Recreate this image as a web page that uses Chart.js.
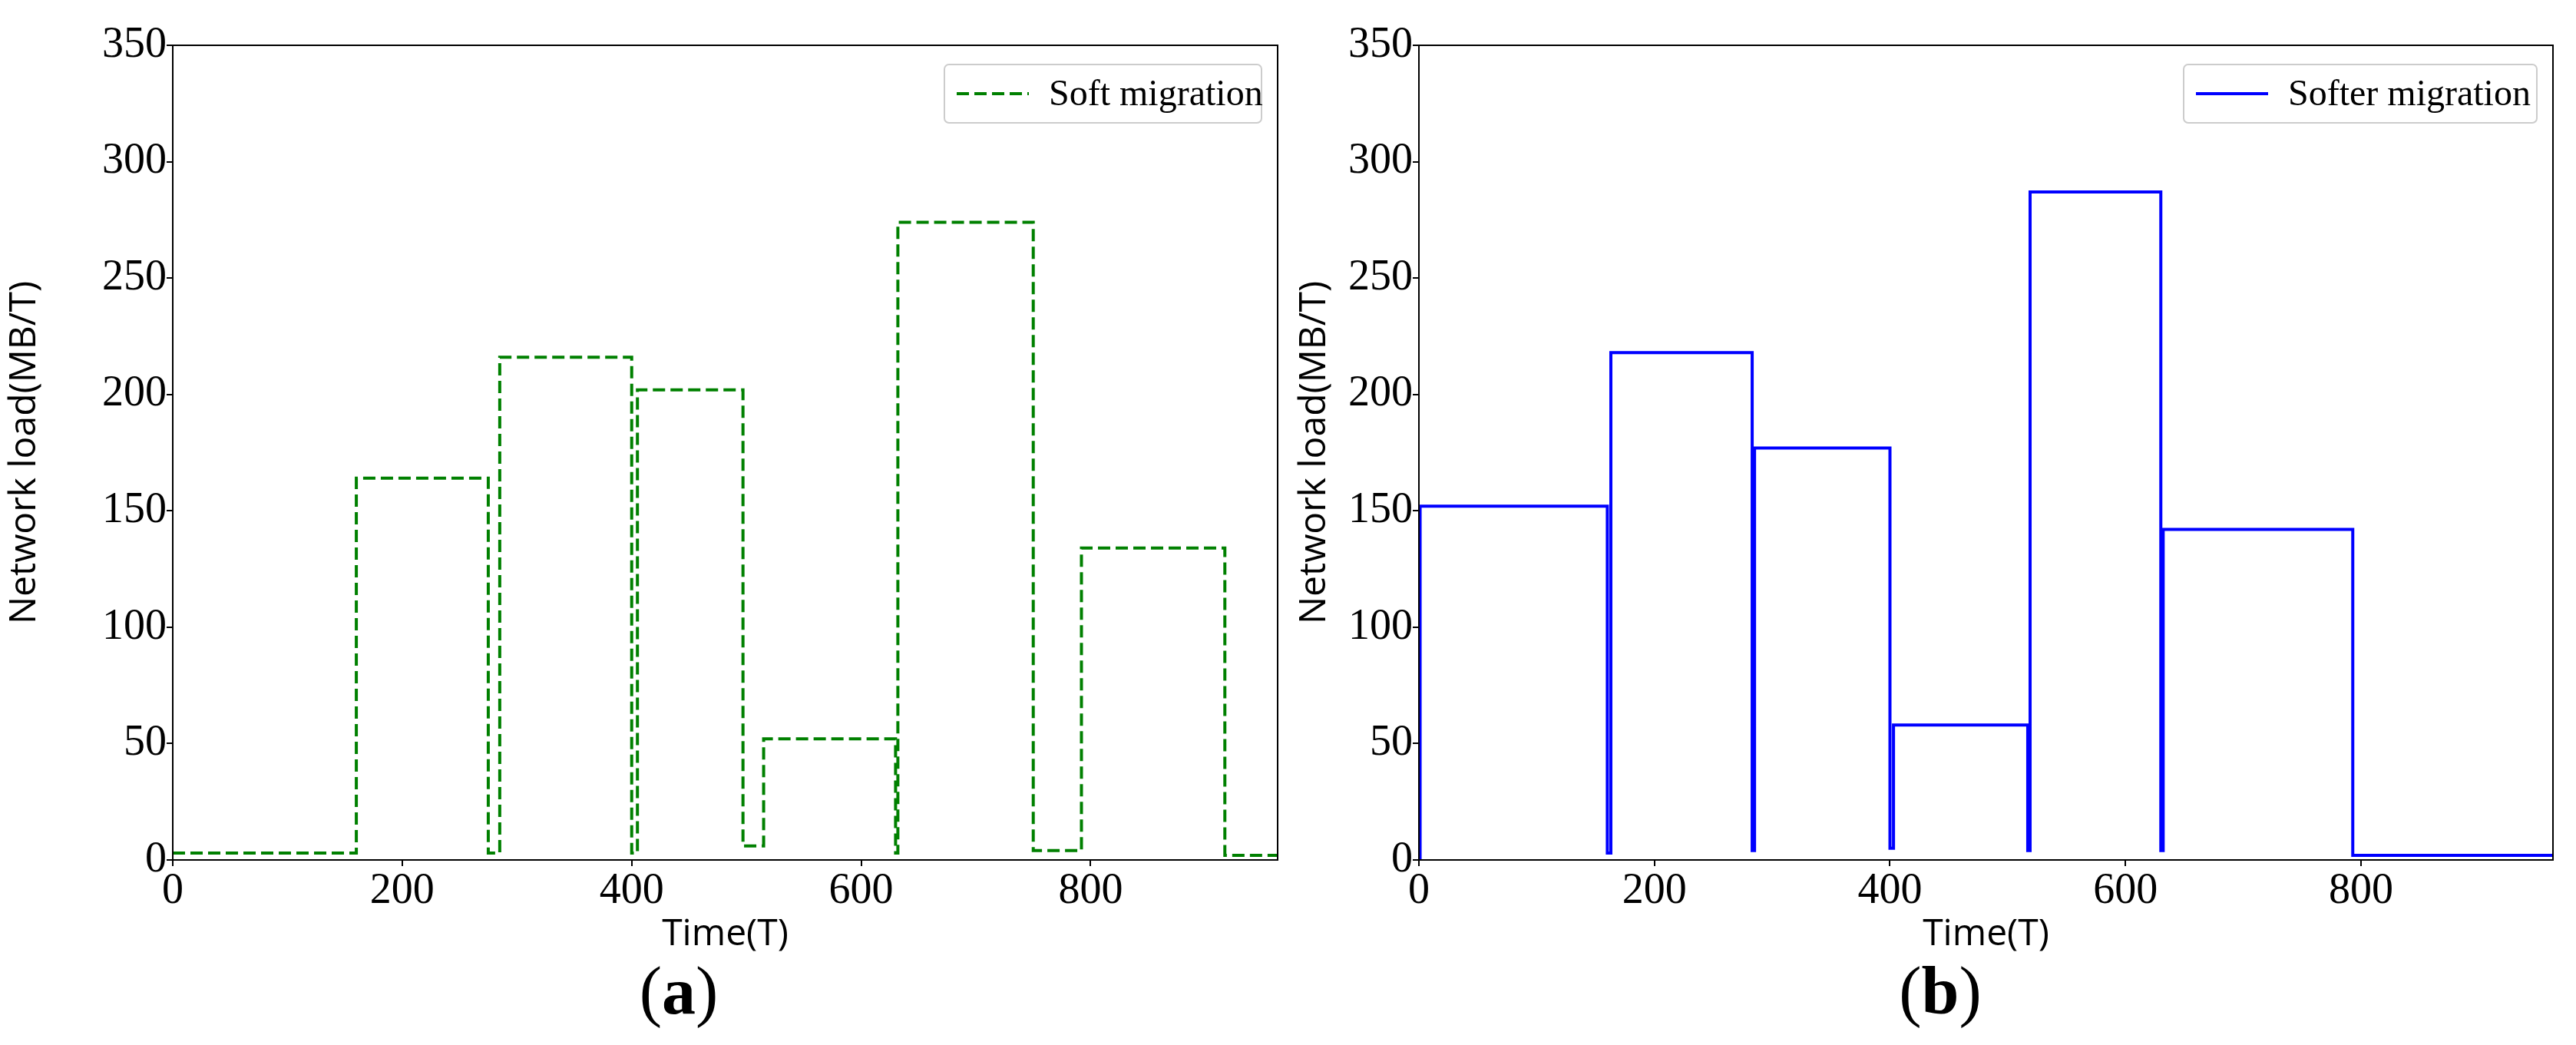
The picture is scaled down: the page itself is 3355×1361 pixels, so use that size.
<!DOCTYPE html>
<html>
<head>
<meta charset="utf-8">
<script src="https://cdn.jsdelivr.net/npm/chart.js@4.4.0/dist/chart.umd.min.js"></script>
<style>
  body { margin: 0; background: #fff; width: 3355px; height: 1361px; position: relative; overflow: hidden; }
  .panel { position: absolute; top: 0; height: 1250px; }
  .caption { position: absolute; top: 1240px; font-family: "Liberation Serif", serif; font-size: 88px; transform: translateX(-50%); }
  .caption b { font-weight: bold; }
</style>
</head>
<body>
<div class="panel" style="left:0;width:1680px"><canvas id="chartA"></canvas></div>
<div class="panel" style="left:1680px;width:1675px"><canvas id="chartB"></canvas></div>
<div class="caption" style="left:884px">(<b>a</b>)</div>
<div class="caption" style="left:2527px">(<b>b</b>)</div>
<script>
// step breakpoints (x) and level held after each breakpoint (y)
const softX = [0, 160, 275, 285, 400, 405, 497, 515, 630, 632, 750, 792, 917, 963];
const softY = [3, 164, 3, 216, 3, 202, 6, 52, 3, 274, 4, 134, 2, 2];
const softerX = [0, 1, 160, 163, 283, 285, 400, 403, 517, 519, 630, 632, 793, 963];
const softerY = [0, 152, 3, 218, 4, 177, 5, 58, 4, 287, 4, 142, 2, 2];
const xTicks = [0, 200, 400, 600, 800];
const yTicks = [0, 50, 100, 150, 200, 250, 300, 350];

// full frame around the plot area, like matplotlib
const frame = {
  id: 'frame',
  afterDraw(chart) {
    const a = chart.chartArea, c = chart.ctx;
    c.save();
    c.strokeStyle = '#000';
    c.lineWidth = 2;
    c.strokeRect(a.left, a.top, a.right - a.left, a.bottom - a.top);
    c.restore();
  }
};

const legendBox = {
  id: 'legendBox',
  afterDraw(chart, args, opts) {
    const c = chart.ctx;
    c.save();
    c.strokeStyle = '#cccccc';
    c.lineWidth = 2;
    c.fillStyle = 'rgba(255,255,255,0.8)';
    c.beginPath();
    c.roundRect(opts.x, opts.y, opts.w, 76, 6);
    c.fill();
    c.stroke();
    c.strokeStyle = opts.color;
    c.lineWidth = 4;
    c.setLineDash(opts.dash);
    c.beginPath();
    c.moveTo(opts.x + 16, opts.y + 38);
    c.lineTo(opts.x + 110, opts.y + 38);
    c.stroke();
    c.setLineDash([]);
    c.fillStyle = '#000';
    c.font = '48px "Liberation Serif"';
    c.textBaseline = 'middle';
    c.fillText(opts.label, opts.x + 136, opts.y + 40);
    c.restore();
  }
};

function makeChart(id, xs, ys, color, dash, label, yWidth, padRight, legend) {
  const pts = xs.map((x, i) => ({ x: x, y: ys[i] }));
  return new Chart(document.getElementById(id), {
    type: 'line',
    data: { datasets: [{ label: label, data: pts, stepped: 'before', borderColor: color, borderWidth: 4, borderDash: dash, pointRadius: 0, fill: false }] },
    options: {
      responsive: true,
      maintainAspectRatio: false,
      animation: false,
      layout: { padding: { top: 59, right: padRight, left: 0, bottom: 0 } },
      plugins: { legend: { display: false }, tooltip: { enabled: false }, legendBox: legend },
      scales: {
        x: {
          type: 'linear', min: 0, max: 963,
          afterBuildTicks: s => { s.ticks = xTicks.map(v => ({ value: v })); },
          afterFit: s => { s.height = 130; },
          border: { color: '#000', width: 2 },
          grid: { drawOnChartArea: false, color: '#000', tickLength: 8, lineWidth: 2 },
          ticks: { color: '#000', padding: 0, font: { family: 'Liberation Serif', size: 56 } },
          title: { display: true, text: 'Time(T)', color: '#000', padding: { top: 0 }, font: { family: 'Open Sans', size: 48 } }
        },
        y: {
          min: 0, max: 350,
          afterBuildTicks: s => { s.ticks = yTicks.map(v => ({ value: v })); },
          afterFit: s => { s.width = yWidth; },
          border: { color: '#000', width: 2 },
          grid: { drawOnChartArea: false, color: '#000', tickLength: 8, lineWidth: 2 },
          ticks: { color: '#000', padding: 0, font: { family: 'Liberation Serif', size: 56 } },
          title: { display: true, text: 'Network load(MB/T)', color: '#000', padding: { bottom: 0 }, font: { family: 'Open Sans', size: 48 } }
        }
      }
    },
    plugins: [frame, legendBox]
  });
}

makeChart('chartA', softX, softY, '#008000', [16, 7], 'Soft migration', 225, 16,
  { x: 1230, y: 84, w: 413, color: '#008000', dash: [16, 7], label: 'Soft migration' });
makeChart('chartB', softerX, softerY, '#0000ff', [], 'Softer migration', 168, 30,
  { x: 1164, y: 84, w: 460, color: '#0000ff', dash: [], label: 'Softer migration' });
</script>
</body>
</html>
